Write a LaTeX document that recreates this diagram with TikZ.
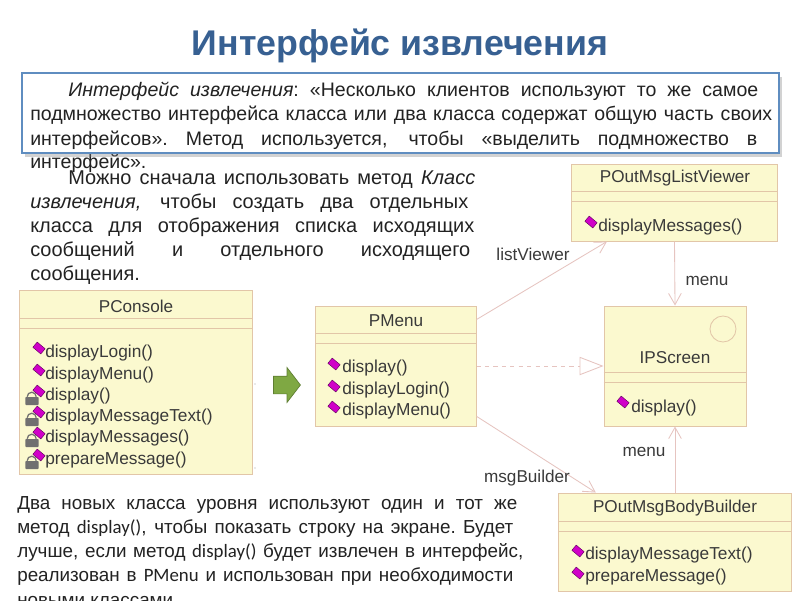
\documentclass[tikz,border=0pt]{standalone}
\usepackage{fontspec}
\setmainfont{Liberation Sans}
\newfontfamily\codefont{Carlito}
\usetikzlibrary{shapes.geometric, shapes.arrows, arrows.meta, positioning, shadows}
\definecolor{cTitle}{HTML}{376092}
\definecolor{cBody}{HTML}{222222}
\definecolor{cFrame}{HTML}{5F8DC0}
\definecolor{cClass}{HTML}{FBF9CF}
\definecolor{cEdge}{HTML}{E2C6A8}
\definecolor{cLink}{HTML}{E6C4C0}
\definecolor{cLabel}{HTML}{3A3A3A}
\definecolor{cMark}{HTML}{D000C8}
\definecolor{cLock}{HTML}{707070}
\definecolor{cGo}{HTML}{7FA843}
\newlength{\pxu}
\setlength{\pxu}{0.025cm}
\newcommand{\fitline}[2]{\hbox to #1\pxu{\spaceskip=.28em plus 1em minus .06em\xspaceskip=\spaceskip #2}}
\tikzset{
  classbox/.style={
    draw=cEdge, fill=cClass, line width=0.7pt, inner sep=0pt,
  },
  classrule/.style={draw=cEdge, line width=0.6pt},
  classname/.style={font=\fontsize{12.2pt}{14pt}\selectfont, text=cLabel, inner sep=0pt},
  method/.style={font=\fontsize{12.3pt}{14pt}\selectfont, text=cLabel, anchor=west, inner sep=0pt},
  marker/.style={
    rectangle, draw=cMark!45!black, fill=cMark, line width=0.3pt, inner sep=0pt,
    minimum width=0.26cm, minimum height=0.17cm, rotate=-40,
  },
  lockbody/.style={
    fill=cLock, rounded corners=0.5pt, inner sep=0pt,
    minimum width=0.325cm, minimum height=0.2cm,
  },
  link/.style={draw=cLink, line width=0.6pt, -{Straight Barb[length=8pt, width=9pt]}},
  linklabel/.style={font=\fontsize{12.2pt}{14pt}\selectfont, text=cLabel, inner sep=0pt},
  bodytext/.style={
    font=\fontsize{#1pt}{17.2pt}\selectfont, text=cBody,
    anchor=north west, inner sep=0pt,
  },
}

\begin{document}
\begin{tikzpicture}[x=0.025cm, y=-0.025cm]

  \useasboundingbox[fill=white] (0,0) rectangle (800,600);
  \clip (0,0) rectangle (800,600);

  % Title
  \node[font=\fontsize{25.4pt}{28pt}\selectfont\bfseries, text=cTitle, inner sep=0pt] (title) at (400,46)
    {Интерфейс извлечения};

  % Last line of the lead text runs out under the frame
  \node[bodytext=13.9, text width=742\pxu] (leadtail) at (30,154) {\fitline{742}{интерфейс».\hfil}};

  % Frame of the lead text
  \node[draw=cFrame, fill=white, line width=1.2pt, inner sep=0pt,
    minimum width=18.925cm, minimum height=2cm,
    drop shadow={shadow xshift=2pt, shadow yshift=-3pt, opacity=0.35}] (frame) at (400.5,113) {};
  \node[bodytext=13.9, text width=742\pxu] (leadtext) at (30,82) {%
    \fitline{728}{\hspace{38\pxu}\textit{Интерфейс извлечения}: «Несколько клиентов используют то же самое}
    \fitline{742}{подмножество интерфейса класса или два класса содержат общую часть своих}
    \fitline{727}{интерфейсов». Метод используется, чтобы «выделить подмножество в}};

  % Left column
  \node[bodytext=14.2, text width=446\pxu] (extracttext) at (30,170) {%
    \fitline{445}{\hspace{38\pxu}Можно сначала использовать метод \textit{Класс}}
    \fitline{438}{\textit{извлечения,} чтобы создать два отдельных}
    \fitline{444}{класса для отображения списка исходящих}
    \fitline{440}{сообщений и отдельного исходящего}
    \fitline{440}{сообщения.\hfil}};

  % Bottom text
  \node[bodytext=13.4, text width=523\pxu] (bottomtext) at (17,496) {%
    \fitline{500}{Два новых класса уровня используют один и тот же}
    \fitline{496}{метод {\codefont display()}, чтобы показать строку на экране. Будет}
    \fitline{506}{лучше, если метод {\codefont display()} будет извлечен в интерфейс,}
    \fitline{496}{реализован в {\codefont PMenu} и использован при необходимости}
    \fitline{496}{новыми классами\hfil}};

  % PConsole
  \node[classbox, minimum width=5.8cm, minimum height=4.575cm] (console) at (136,382.5) {};
  \node[classname] (consolename) at (136,306) {PConsole};
  \foreach \dy in {0.7,0.95}
    \draw[classrule] ([yshift=-\dy cm]console.north west) -- ([yshift=-\dy cm]console.north east);
  \foreach \id/\yy in {c/396,d/417,e/438,f/460} {
    \node[lockbody] (lock\id) at (32,\yy+5) {};
    \draw[cLock, line width=0.9pt] (lock\id.north west) ++(2,0) arc[start angle=180, end angle=360, radius=4.5];
  }
  \foreach \id/\yy/\txt in {a/353/displayLogin(), b/375/displayMenu(), c/396/display(),
      d/417/displayMessageText(), e/438/displayMessages(), f/460/prepareMessage()} {
    \node[method] (cons\id) at (45,\yy) {\txt};
    \node[marker] (consmark\id) at (39,\yy-5) {};
  }

  % Refactoring arrow and the two dots beside it
  \node[single arrow, draw=cGo!75!black, fill=cGo, line width=0.5pt, inner sep=0pt,
    text height=0.425cm, text depth=0pt, minimum height=0.675cm,
    single arrow head extend=0.2125cm, single arrow tip angle=105] (goarrow) at (283.5,385) {};
  \foreach \id/\yy in {a/384,b/468}
    \node[circle, fill=gray!70, inner sep=0pt, minimum size=1pt] (dot\id) at (255,\yy) {};

  % PMenu
  \node[classbox, minimum width=4cm, minimum height=3cm] (menu) at (396,366) {};
  \node[classname] (menuname) at (396,321) {PMenu};
  \foreach \dy in {0.7,0.95}
    \draw[classrule] ([yshift=-\dy cm]menu.north west) -- ([yshift=-\dy cm]menu.north east);
  \foreach \id/\yy/\txt in {a/368/display(), b/390/displayLogin(), c/411/displayMenu()} {
    \node[method] (menu\id) at (342,\yy) {\txt};
    \node[marker] (menumark\id) at (334,\yy-4) {};
  }

  % POutMsgListViewer
  \node[classbox, minimum width=5.125cm, minimum height=1.925cm] (viewer) at (674.5,202.5) {};
  \node[classname] (viewername) at (675,178) {POutMsgListViewer};
  \foreach \dy in {0.7,0.95}
    \draw[classrule] ([yshift=-\dy cm]viewer.north west) -- ([yshift=-\dy cm]viewer.north east);
  \node[method] (viewera) at (598,227) {displayMessages()};
  \node[marker] (viewermark) at (591,222) {};

  % IPScreen
  \node[classbox, minimum width=3.55cm, minimum height=3cm] (screen) at (675,366) {};
  \node[classname] (screenname) at (675,358) {IPScreen};
  \node[circle, draw=cEdge, line width=0.6pt, minimum size=0.65cm, inner sep=0pt] (screenicon) at (723,329) {};
  \foreach \dy in {1.675,1.925}
    \draw[classrule] ([yshift=-\dy cm]screen.north west) -- ([yshift=-\dy cm]screen.north east);
  \node[method] (screena) at (631,408) {display()};
  \node[marker] (screenmark) at (623,402) {};

  % POutMsgBodyBuilder
  \node[classbox, minimum width=5.8cm, minimum height=2.45cm] (builder) at (675,542) {};
  \node[classname] (buildername) at (675,508) {POutMsgBodyBuilder};
  \foreach \dy in {0.725,0.975}
    \draw[classrule] ([yshift=-\dy cm]builder.north west) -- ([yshift=-\dy cm]builder.north east);
  \node[method] (buildera) at (585,555) {displayMessageText()};
  \node[marker] (buildermarka) at (578,551) {};
  \node[method] (builderb) at (585,577) {prepareMessage()};
  \node[marker] (buildermarkb) at (578,573) {};

  % Associations
  \draw[link] (menu.30) -- (viewer.210);
  \draw[link] (menu.-32) -- (builder.148);
  \draw[link] (viewer.south) -- (screen.north);
  \draw[link] (builder.north) -- (screen.south);
  \draw[draw=cLink, line width=0.6pt, dashed,
    -{Triangle[open, length=17pt, width=13pt]}] (menu.east) -- (screen.west);

  % Association labels
  \node[linklabel] (viewerlabel) at (533,254) {listViewer};
  \node[linklabel] (menulabeltop) at (707,281) {menu};
  \node[linklabel] (builderlabel) at (527,478) {msgBuilder};
  \node[linklabel] (menulabelbottom) at (644,452) {menu};

\end{tikzpicture}
\end{document}
